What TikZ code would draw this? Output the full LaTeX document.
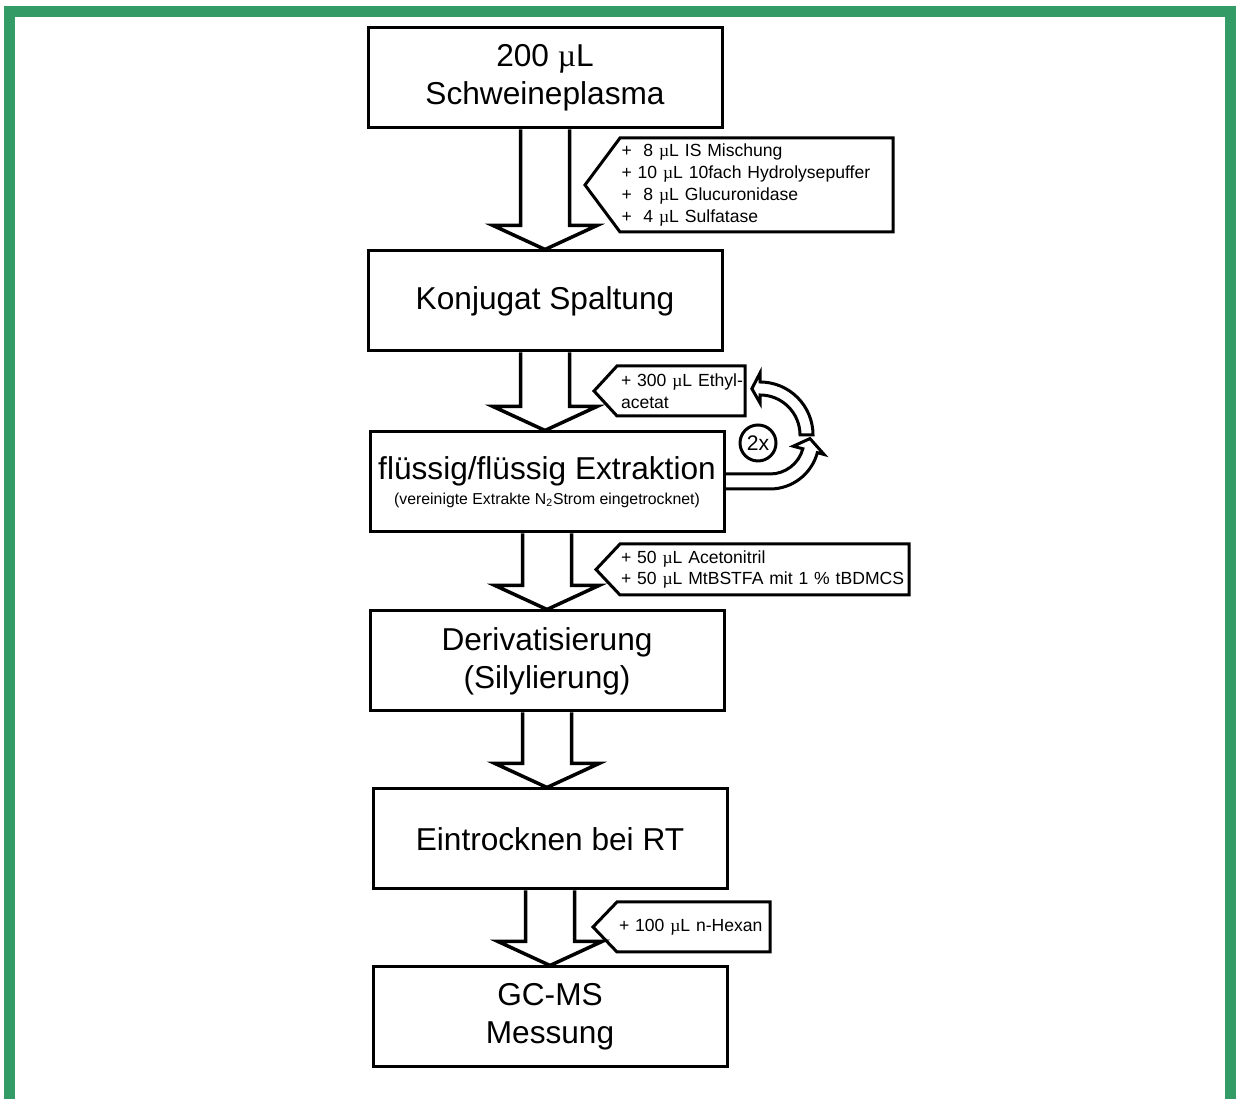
\documentclass[tikz,border=0pt]{standalone}
\usepackage{fontspec}
\setmainfont{Liberation Sans}
\newfontfamily\greekfont{Liberation Serif}
\usepackage{xcolor}
\usetikzlibrary{positioning,calc}
\definecolor{framegreen}{RGB}{51,155,102}
\newcommand{\microL}{{\greekfont µ}L}

\begin{document}
\begin{tikzpicture}[
    stepbox/.style={
        rectangle,
        draw=black,
        line width=0.06cm,
        align=center,
        minimum width=7.08cm,
        minimum height=2.0cm,
        font=\fontsize{18}{21.5}\selectfont
    },
    addbox/.style={
        rectangle,
        align=left,
        inner xsep=0pt,
        inner ysep=0pt,
        outer sep=0pt,
        font=\fontsize{10}{12.4}\selectfont
    },
    addline/.style={draw=black, line width=0.06cm, line join=miter},
    bigarrow/.style={draw=black, line width=0.07cm, line join=miter},
    looparrow/.style={draw=black, line width=0.06cm, line join=miter},
    counter/.style={
        circle,
        draw=black,
        line width=0.06cm,
        minimum size=0.72cm,
        inner sep=0pt,
        font=\fontsize{12}{14}\selectfont
    }
]
\useasboundingbox (0,0) rectangle (24.72,21.98);
\draw[framegreen, line width=0.22cm] (0.19,0) -- (0.19,21.75) -- (24.61,21.75) -- (24.61,0);

\node[stepbox] (plasma) at (10.90,20.42) {200 \microL\\Schweineplasma};
\node[stepbox, below=2.40cm of plasma] (spaltung) {Konjugat Spaltung};
\node[stepbox, below=1.56cm of spaltung, xshift=0.04cm] (extraktion) {flüssig/flüssig Extraktion\\[-7.5pt]{\fontsize{9}{11}\selectfont (vereinigte Extrakte N\textsubscript{2}Strom eingetrocknet)}};
\node[stepbox, below=1.52cm of extraktion] (deriv) {Derivatisierung\\(Silylierung)};
\node[stepbox, below=1.50cm of deriv, xshift=0.06cm] (eintrocknen) {Eintrocknen bei RT};
\node[stepbox, below=1.50cm of eintrocknen] (messung) {GC-MS\\Messung};

\node[addbox, minimum width=5.46cm, minimum height=1.88cm, text width=5.40cm] (mix) at (15.13,18.28) {\mbox{+~~8 \microL{} IS Mischung}\\\mbox{+ 10 \microL{} 10fach Hydrolysepuffer}\\\mbox{+~~8 \microL{} Glucuronidase}\\\mbox{+~~4 \microL{} Sulfatase}};
\node[addbox, minimum width=2.56cm, minimum height=1.0cm, text width=2.40cm] (solvent) at (13.62,14.16) {\mbox{+ 300 \microL{} Ethyl-}\\acetat};
\node[addbox, minimum width=5.78cm, minimum height=1.02cm, text width=5.74cm] (reagent) at (15.29,10.59) {\mbox{+ 50 \microL{} Acetonitril}\\\mbox{+ 50 \microL{} MtBSTFA mit 1 \% tBDMCS}};
\node[addbox, minimum width=3.06cm, minimum height=1.0cm, text width=2.98cm] (hexan) at (13.87,3.44) {\mbox{+ 100 \microL{} n-Hexan}};

\foreach \n/\d in {mix/0.70, solvent/0.46, reagent/0.48, hexan/0.48}
    \draw[addline] (\n.north west) -- (\n.north east) -- (\n.south east) -- (\n.south west) -- ($(\n.west)+(-\d,0)$) -- cycle;

\foreach \a/\b in {plasma/spaltung, spaltung/extraktion, extraktion/deriv, deriv/eintrocknen, eintrocknen/messung}
    \draw[bigarrow] ($(\a.south)+(-0.49,0)$) -- ($(\a.south |- \b.north)+(-0.49,0.48)$) -- ($(\a.south |- \b.north)+(-1.04,0.48)$) -- (\a.south |- \b.north) -- ($(\a.south |- \b.north)+(1.04,0.48)$) -- ($(\a.south |- \b.north)+(0.49,0.48)$) -- ($(\a.south)+(0.49,0)$);

\node[counter] (twice) at ($(extraktion.east)+(0.65,0.78)$) {2x};
\coordinate (lc) at ($(twice)+(0.24,0.06)$);
\coordinate (uc) at ($(twice)+(0.04,0.16)$);
\coordinate (lin) at ($(lc)+(0,-0.68)$);
\coordinate (lout) at ($(lc)+(0,-0.98)$);

\draw[looparrow] (extraktion.east |- lin) -- (lin) arc[start angle=270, end angle=345, radius=0.68] -- ($(lc)+(345:0.48)$) -- ($(lc)+(2:0.80)$) -- ($(lc)+(345:1.12)$) -- ($(lc)+(345:0.98)$) arc[start angle=345, end angle=270, radius=0.98] -- (extraktion.east |- lout);
\draw[looparrow] ($(uc)+(0:0.80)$) arc[start angle=0, end angle=90, radius=0.80] -- ($(uc)+(90:0.64)$) -- ($(uc)+(100:0.94)$) -- ($(uc)+(90:1.24)$) -- ($(uc)+(90:1.06)$) arc[start angle=90, end angle=0, radius=1.06] -- cycle;

\end{tikzpicture}
\end{document}
